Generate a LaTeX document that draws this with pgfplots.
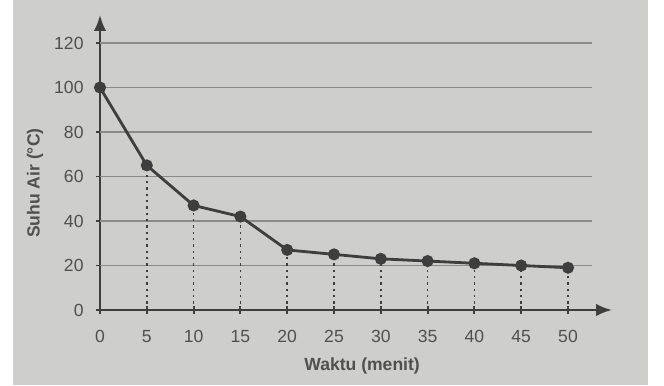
\documentclass[border=0pt]{standalone}
\usepackage{pgfplots}
\pgfplotsset{compat=1.18}
\usepackage{fontspec}
\setmainfont{Liberation Sans}
\usetikzlibrary{arrows.meta}
\definecolor{bg}{RGB}{206,206,204}
\definecolor{ink}{RGB}{62,62,62}
\definecolor{txt}{RGB}{80,80,80}
\definecolor{grd}{RGB}{138,138,138}
\begin{document}
\begin{tikzpicture}
\fill[white] (0,0) rectangle (13.28cm,7.7cm);
\fill[bg] (0.26cm,0) rectangle (12.96cm,7.7cm);
\begin{axis}[
  at={(2cm,1.5cm)}, anchor=south west,
  scale only axis, width=10.24cm, height=5.9cm,
  xmin=0, xmax=54.7, ymin=0, ymax=132.6,
  axis x line=bottom, axis y line=left,
  axis line style={ink, line width=1.3pt, -{Latex[length=9pt,width=7pt]}},
  xtick={0,5,...,50}, ytick={0,20,...,120},
  tick style={ink, line width=1.1pt},
  major tick length=0.17cm, tick align=center,
  ticklabel style={font=\fontsize{10}{12}\selectfont, text=txt},
  /pgf/number format/assume math mode=true,
  xticklabel style={yshift=-0.2cm},
  yticklabel style={xshift=-0.12cm},
  xlabel={Waktu (menit)}, ylabel={Suhu Air (°C)},
  label style={font=\bfseries\fontsize{10}{12}\selectfont, text=txt},
  xlabel style={at={([yshift=-1.12cm]axis cs:28,0)}, anchor=center},
  ylabel style={at={([xshift=-1.3cm]axis cs:0,57)}, anchor=center},
  clip=false,
]
\pgfplotsinvokeforeach{20,40,...,120}{
  \draw[grd, line width=1.1pt] (axis cs:0,#1) -- (axis cs:52.6,#1);
}
\addplot[ycomb, ink, line width=1pt, dash pattern=on 1.4pt off 2.2pt, no marks] coordinates {
(5,65) (10,47) (15,42) (20,27) (25,25) (30,23) (35,22) (40,21) (45,20) (50,19)};
\addplot[ink, line width=1.6pt, mark=*, mark size=2.6pt] coordinates {
(0,100) (5,65) (10,47) (15,42) (20,27) (25,25) (30,23) (35,22) (40,21) (45,20) (50,19)};
\end{axis}
\end{tikzpicture}
\end{document}
